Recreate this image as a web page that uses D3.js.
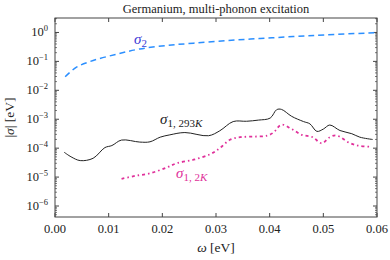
<!DOCTYPE html>
<html>
<head>
<meta charset="utf-8">
<script src="https://cdn.jsdelivr.net/npm/d3@7"></script>
<style>
body { margin: 0; background: #fff; }
text { font-family: "Liberation Serif", "DejaVu Serif", serif; fill: #222; }
</style>
</head>
<body>
<div id="chart"></div>
<script>
var svgWidth = 390;
var svgHeight = 260;

var margin = { top: 18, left: 55, right: 13, bottom: 43 };
var Width = svgWidth - margin.left - margin.right;
var Height = svgHeight - margin.top - margin.bottom;

// sigma_2 (blue dashed)
var omega2 = [0.0019, 0.004, 0.0071, 0.0115, 0.0158, 0.0208, 0.0258, 0.032, 0.0382, 0.0444, 0.0506, 0.0595];
var sigma2 = [-1.53, -1.20, -0.97, -0.75, -0.57, -0.45, -0.37, -0.28, -0.21, -0.14, -0.08, -0.01];

// sigma_1 at 293K (black), log10 values
var omega293 = [0.0017, 0.003, 0.0047, 0.0071, 0.0093, 0.0106, 0.0124, 0.0158, 0.0177, 0.0196, 0.0214, 0.0242, 0.0286, 0.0307, 0.0332, 0.0357, 0.0379, 0.0401, 0.0413, 0.0422, 0.0441, 0.0463, 0.0475, 0.0488, 0.05, 0.0512, 0.0531, 0.0553, 0.0568, 0.0592];
var sigma293 = [-4.14, -4.30, -4.43, -4.35, -3.98, -3.91, -3.72, -3.79, -3.78, -3.62, -3.54, -3.46, -3.57, -3.40, -3.08, -3.07, -3.03, -2.96, -2.67, -2.66, -2.90, -3.08, -3.16, -3.42, -3.34, -3.20, -3.39, -3.50, -3.62, -3.70];

// sigma_1 at 2K (pink dash-dot), log10 values
var omega2K = [0.0124, 0.0149, 0.0177, 0.0208, 0.0227, 0.0258, 0.0289, 0.0307, 0.0326, 0.0345, 0.037, 0.0395, 0.0407, 0.0422, 0.0441, 0.046, 0.048, 0.0497, 0.0512, 0.0524, 0.055, 0.0568, 0.059];
var sigma2K = [-5.06, -4.96, -4.87, -4.67, -4.52, -4.40, -4.21, -4.00, -3.71, -3.62, -3.60, -3.57, -3.46, -3.19, -3.34, -3.54, -3.62, -3.83, -3.62, -3.56, -3.83, -3.92, -3.95];

var xTicks = [0, 0.01, 0.02, 0.03, 0.04, 0.05, 0.06];
var yTicks = [0, -1, -2, -3, -4, -5, -6];

var svg = d3.select("#chart")
    .append("svg")
    .attr("width", svgWidth)
    .attr("height", svgHeight);

var chartGroup = svg.append("g")
    .attr("transform", `translate(${margin.left}, ${margin.top})`);

var xScale = d3.scaleLinear().domain([0, 0.06]).range([0, Width]);
var yScale = d3.scaleLog().domain([Math.pow(10, -6.38), Math.pow(10, 0.5)]).range([Height, 0]);

// frame
chartGroup.append("rect")
    .attr("width", Width)
    .attr("height", Height)
    .attr("fill", "none")
    .attr("stroke", "#444")
    .attr("stroke-width", 1);

// x ticks, inward on bottom and top
xTicks.forEach(function(t) {
    var x = xScale(t);
    chartGroup.append("line").attr("x1", x).attr("x2", x).attr("y1", Height).attr("y2", Height - 4).attr("stroke", "#444");
    chartGroup.append("line").attr("x1", x).attr("x2", x).attr("y1", 0).attr("y2", 4).attr("stroke", "#444");
    chartGroup.append("text")
        .attr("x", x)
        .attr("y", Height + 16)
        .attr("text-anchor", "middle")
        .attr("font-size", 12.5)
        .text(t.toFixed(2));
});

// y ticks (major + minor), inward on left and right
for (var k = -7; k <= 0; k++) {
    for (var m = 1; m <= 9; m++) {
        var v = m * Math.pow(10, k);
        if (v < yScale.domain()[0] || v > yScale.domain()[1]) continue;
        var y = yScale(v);
        var len = m === 1 ? 4 : 2;
        chartGroup.append("line").attr("x1", 0).attr("x2", len).attr("y1", y).attr("y2", y).attr("stroke", "#444").attr("stroke-width", m === 1 ? 1 : 0.7);
        chartGroup.append("line").attr("x1", Width).attr("x2", Width - len).attr("y1", y).attr("y2", y).attr("stroke", "#444").attr("stroke-width", m === 1 ? 1 : 0.7);
    }
}

yTicks.forEach(function(t) {
    var lab = chartGroup.append("text")
        .attr("x", -7)
        .attr("y", yScale(Math.pow(10, t)) + 4)
        .attr("text-anchor", "end")
        .attr("font-size", 12.5);
    lab.append("tspan").text("10");
    lab.append("tspan").attr("dy", -5).attr("font-size", 8.5).text(t === 0 ? "0" : "\u2212" + (-t));
});

var line = d3.line()
    .x(d => xScale(d[0]))
    .y(d => yScale(Math.pow(10, d[1])))
    .curve(d3.curveCatmullRom);

chartGroup.append("path")
    .datum(d3.zip(omega2, sigma2))
    .attr("d", line)
    .attr("fill", "none")
    .attr("stroke", "#2b8fff")
    .attr("stroke-width", 1.5)
    .attr("stroke-dasharray", "6,4");

chartGroup.append("path")
    .datum(d3.zip(omega293, sigma293))
    .attr("d", line)
    .attr("fill", "none")
    .attr("stroke", "#222")
    .attr("stroke-width", 1);

chartGroup.append("path")
    .datum(d3.zip(omega2K, sigma2K))
    .attr("d", line)
    .attr("fill", "none")
    .attr("stroke", "#e0309a")
    .attr("stroke-width", 1.8)
    .attr("stroke-dasharray", "3,3,1.5,3");

// curve labels
function sigmaLabel(x, y, sub, color) {
    var t = svg.append("text")
        .attr("x", x)
        .attr("y", y)
        .attr("font-size", 15)
        .style("fill", color);
    t.append("tspan").attr("font-style", "italic").text("\u03c3");
    t.append("tspan").attr("dy", 3).attr("font-size", 11).text(sub);
    return t;
}
sigmaLabel(134, 44, "2", "#3b3bd6");
var l293 = sigmaLabel(160, 124, "1, 293", "#222");
l293.append("tspan").attr("font-size", 11).attr("font-style", "italic").text("K");
var l2 = sigmaLabel(176, 178, "1, 2", "#e0309a");
l2.append("tspan").attr("font-size", 11).attr("font-style", "italic").text("K");

// title and axis labels
svg.append("text")
    .attr("x", margin.left + Width / 2)
    .attr("y", 13)
    .attr("text-anchor", "middle")
    .attr("font-size", 12.5)
    .text("Germanium, multi-phonon excitation");

var xl = svg.append("text")
    .attr("x", margin.left + Width / 2)
    .attr("y", 252)
    .attr("text-anchor", "middle")
    .attr("font-size", 13.5);
xl.append("tspan").attr("font-style", "italic").text("\u03c9");
xl.append("tspan").text(" [eV]");

var yl = svg.append("text")
    .attr("transform", `translate(14, ${margin.top + Height / 2}) rotate(-90)`)
    .attr("text-anchor", "middle")
    .attr("font-size", 13.5);
yl.append("tspan").text("|");
yl.append("tspan").attr("font-style", "italic").text("\u03c3");
yl.append("tspan").text("| [eV]");
</script>
</body>
</html>
